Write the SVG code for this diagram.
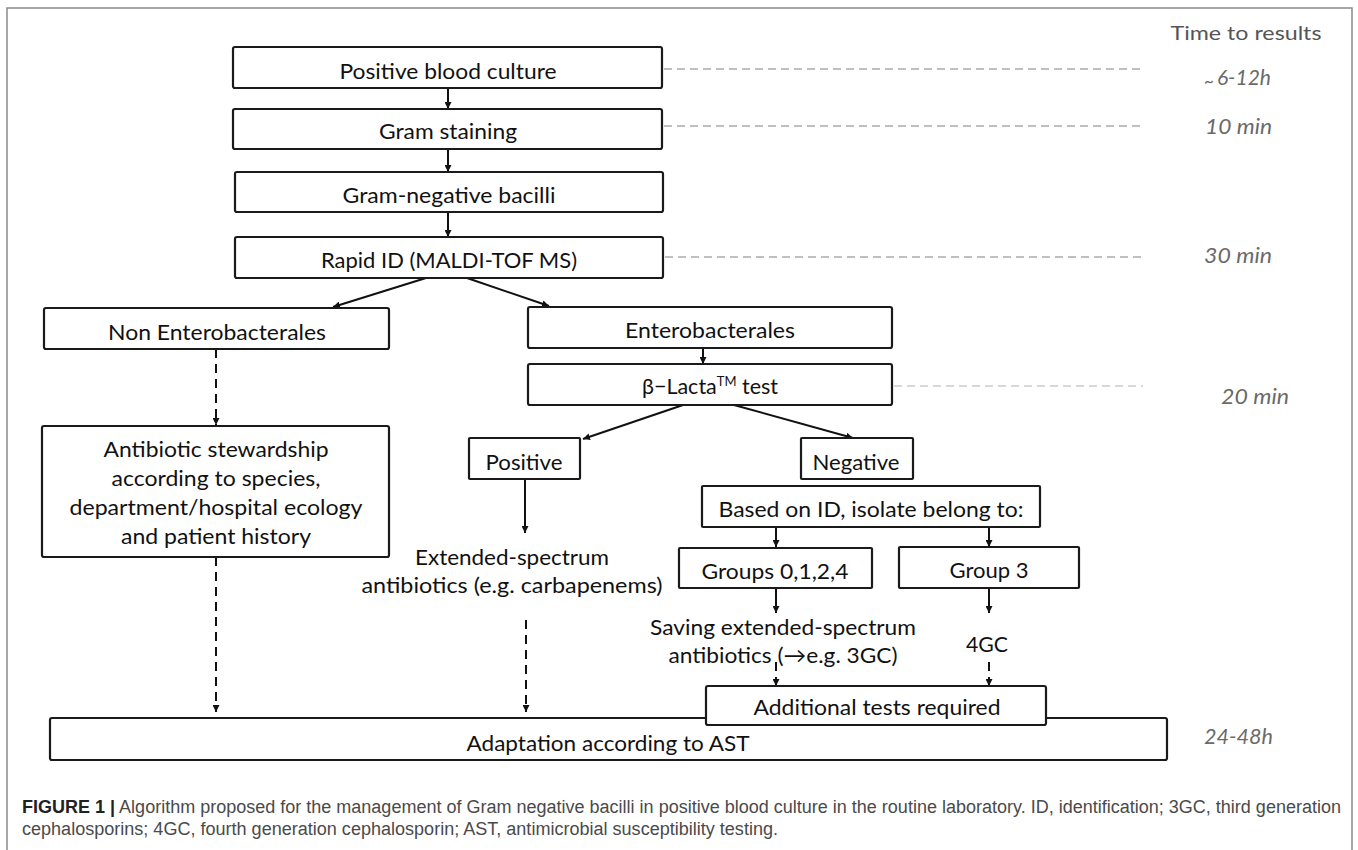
<svg xmlns="http://www.w3.org/2000/svg" width="1358" height="850" viewBox="0 0 1358 850">
<style>
.bg{fill:#fff}
.frame{fill:none;stroke:#8a8a8a;stroke-width:1.5}
.box{fill:#fff;stroke:#1a1a1a;stroke-width:2.2}
.t{font-family:Lato,"Open Sans",sans-serif;font-size:21.5px;fill:#111;text-anchor:middle}
.tm{font-family:Lato,"Open Sans",sans-serif;font-size:21px;fill:#6a6a6a;font-style:italic}
.hd{font-family:Lato,"Open Sans",sans-serif;font-size:20px;fill:#555}
.guide{stroke:#aaa;stroke-width:1.6;stroke-dasharray:8 5;fill:none}
.guide2{stroke:#ccc;stroke-width:1.4;stroke-dasharray:8 5;fill:none}
.c{stroke:#111;stroke-width:2;fill:none}
.cd{stroke:#111;stroke-width:2;fill:none;stroke-dasharray:9 6}
.cap{font-family:"Liberation Sans",Arial,sans-serif;font-size:18px;fill:#4a4a4a}
.capb{font-weight:bold;fill:#222}
</style>
<defs>
<marker id="ah" viewBox="0 0 10 10" refX="10" refY="5" markerWidth="7" markerHeight="7" markerUnits="userSpaceOnUse" orient="auto">
<path d="M0,0 L10,5 L0,10 z" fill="#111"/>
</marker>
</defs>
<rect class="bg" x="0" y="0" width="1358" height="850"/>
<path class="frame" d="M7,860 L7,8 L1352,8 L1352,860"/>

<g id="time-axis">
<text class="hd" x="1246" y="40" text-anchor="middle" textLength="151" lengthAdjust="spacingAndGlyphs">Time to results</text>
<path class="guide" d="M664,69 H1144 M664,126 H1144 M665,257 H1144"/>
<path class="guide2" d="M894,386 H1143"/>
<text class="tm" x="1204" y="85"><tspan font-size="17" dy="2">~</tspan><tspan dx="3" dy="-2">6-12h</tspan></text>
<text class="tm" x="1205" y="134" textLength="67" lengthAdjust="spacingAndGlyphs">10 min</text>
<text class="tm" x="1204" y="263" textLength="68" lengthAdjust="spacingAndGlyphs">30 min</text>
<text class="tm" x="1221" y="404" textLength="68" lengthAdjust="spacingAndGlyphs">20 min</text>
<text class="tm" x="1204" y="744" textLength="69" lengthAdjust="spacingAndGlyphs">24-48h</text>
</g>

<g id="connectors">
<line class="c" x1="448" y1="88" x2="448" y2="109" marker-end="url(#ah)"/>
<line class="c" x1="448" y1="149" x2="448" y2="172" marker-end="url(#ah)"/>
<line class="c" x1="448" y1="212" x2="448" y2="237" marker-end="url(#ah)"/>
<line class="c" x1="426" y1="278" x2="333" y2="307" marker-end="url(#ah)"/>
<line class="c" x1="467" y1="278" x2="549" y2="306" marker-end="url(#ah)"/>
<line class="cd" x1="216" y1="349" x2="216" y2="425" marker-end="url(#ah)"/>
<line class="cd" x1="216" y1="557" x2="216" y2="712" marker-end="url(#ah)"/>
<line class="c" x1="703" y1="348" x2="703" y2="364" marker-end="url(#ah)"/>
<line class="c" x1="683" y1="405" x2="583" y2="439" marker-end="url(#ah)"/>
<line class="c" x1="734" y1="405" x2="853" y2="438" marker-end="url(#ah)"/>
<line class="c" x1="525" y1="479" x2="525" y2="533" marker-end="url(#ah)"/>
<line class="cd" x1="526" y1="620" x2="526" y2="712" marker-end="url(#ah)"/>
<line class="c" x1="776" y1="527" x2="776" y2="547" marker-end="url(#ah)"/>
<line class="c" x1="989" y1="527" x2="989" y2="547" marker-end="url(#ah)"/>
<line class="c" x1="776" y1="588" x2="776" y2="613" marker-end="url(#ah)"/>
<line class="c" x1="989" y1="588" x2="989" y2="613" marker-end="url(#ah)"/>
<line class="cd" x1="776" y1="662" x2="776" y2="686" marker-end="url(#ah)"/>
<line class="cd" x1="989" y1="662" x2="989" y2="686" marker-end="url(#ah)"/>
</g>

<g id="n-positive-blood-culture">
<rect class="box" x="233" y="47" width="429" height="41" rx="2"/>
<text class="t" x="448" y="79" textLength="217" lengthAdjust="spacingAndGlyphs">Positive blood culture</text>
</g>
<g id="n-gram-staining">
<rect class="box" x="233" y="109" width="429" height="40" rx="2"/>
<text class="t" x="448" y="139" textLength="138" lengthAdjust="spacingAndGlyphs">Gram staining</text>
</g>
<g id="n-gram-negative">
<rect class="box" x="235" y="172" width="428" height="40" rx="2"/>
<text class="t" x="449" y="203" textLength="213" lengthAdjust="spacingAndGlyphs">Gram-negative bacilli</text>
</g>
<g id="n-rapid-id">
<rect class="box" x="235" y="237" width="428" height="41" rx="2"/>
<text class="t" x="449" y="268" textLength="256" lengthAdjust="spacingAndGlyphs">Rapid ID (MALDI-TOF MS)</text>
</g>
<g id="n-non-entero">
<rect class="box" x="44" y="308" width="345" height="41" rx="2"/>
<text class="t" x="217" y="340" textLength="218" lengthAdjust="spacingAndGlyphs">Non Enterobacterales</text>
</g>
<g id="n-stewardship">
<rect class="box" x="42" y="426" width="347" height="131" rx="2"/>
<text class="t" x="216" y="457" textLength="225" lengthAdjust="spacingAndGlyphs">Antibiotic stewardship</text>
<text class="t" x="216" y="486" textLength="209" lengthAdjust="spacingAndGlyphs">according to species,</text>
<text class="t" x="216" y="515" textLength="293" lengthAdjust="spacingAndGlyphs">department/hospital ecology</text>
<text class="t" x="216" y="544" textLength="190" lengthAdjust="spacingAndGlyphs">and patient history</text>
</g>
<g id="n-entero">
<rect class="box" x="528" y="307" width="364" height="41" rx="2"/>
<text class="t" x="710" y="338" textLength="170" lengthAdjust="spacingAndGlyphs">Enterobacterales</text>
</g>
<g id="n-blacta">
<rect class="box" x="528" y="364" width="364" height="41" rx="2"/>
<text class="t" x="710" y="394">β−Lacta<tspan font-size="13" dy="-8">TM</tspan><tspan dy="8"> test</tspan></text>
</g>
<g id="n-positive">
<rect class="box" x="469" y="438" width="111" height="41" rx="1"/>
<text class="t" x="524" y="470" textLength="77" lengthAdjust="spacingAndGlyphs">Positive</text>
</g>
<g id="n-negative">
<rect class="box" x="801" y="438" width="112" height="41" rx="1"/>
<text class="t" x="856" y="470" textLength="87" lengthAdjust="spacingAndGlyphs">Negative</text>
</g>
<g id="n-extended">
<text class="t" x="512" y="565" textLength="194" lengthAdjust="spacingAndGlyphs">Extended-spectrum</text>
<text class="t" x="512" y="593" textLength="301" lengthAdjust="spacingAndGlyphs">antibiotics (e.g. carbapenems)</text>
</g>
<g id="n-based-on-id">
<rect class="box" x="702" y="486" width="338" height="41" rx="1"/>
<text class="t" x="871" y="517" textLength="305" lengthAdjust="spacingAndGlyphs">Based on ID, isolate belong to:</text>
</g>
<g id="n-groups">
<rect class="box" x="679" y="548" width="193" height="40" rx="1"/>
<text class="t" x="775" y="579" textLength="147" lengthAdjust="spacingAndGlyphs">Groups 0,1,2,4</text>
</g>
<g id="n-group3">
<rect class="box" x="899" y="547" width="180" height="41" rx="1"/>
<text class="t" x="989" y="578" textLength="79" lengthAdjust="spacingAndGlyphs">Group 3</text>
</g>
<g id="n-saving">
<text class="t" x="783" y="635" textLength="266" lengthAdjust="spacingAndGlyphs">Saving extended-spectrum</text>
<text class="t" x="783" y="663" textLength="229" lengthAdjust="spacingAndGlyphs">antibiotics (→e.g. 3GC)</text>
</g>
<g id="n-4gc">
<text class="t" x="987" y="652" textLength="42" lengthAdjust="spacingAndGlyphs">4GC</text>
</g>
<g id="n-adaptation">
<rect class="box" x="50" y="718" width="1117" height="42" rx="2"/>
<text class="t" x="608" y="751" textLength="283" lengthAdjust="spacingAndGlyphs">Adaptation according to AST</text>
</g>
<g id="n-additional">
<rect class="box" x="706" y="686" width="340" height="39" rx="2"/>
<text class="t" x="877" y="715" textLength="247" lengthAdjust="spacingAndGlyphs">Additional tests required</text>
</g>

<g id="caption">
<text class="cap" x="22" y="813" textLength="1319" lengthAdjust="spacingAndGlyphs"><tspan class="capb">FIGURE 1 |</tspan> Algorithm proposed for the management of Gram negative bacilli in positive blood culture in the routine laboratory. ID, identification; 3GC, third generation</text>
<text class="cap" x="22" y="835" textLength="756" lengthAdjust="spacingAndGlyphs">cephalosporins; 4GC, fourth generation cephalosporin; AST, antimicrobial susceptibility testing.</text>
</g>
</svg>
